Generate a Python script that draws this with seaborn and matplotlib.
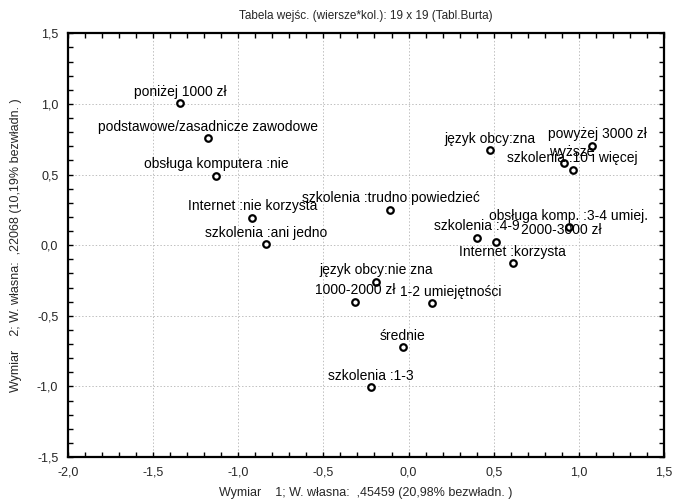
"""
Correspondence analysis map (Burt table, 19 x 19) in Statistica style.
"""
import pandas as pd
import matplotlib
matplotlib.use("Agg")
import matplotlib.pyplot as plt
from matplotlib.ticker import MultipleLocator, FuncFormatter
import seaborn as sns

labels = [
    "poniżej 1000 zł", "podstawowe/zasadnicze zawodowe", "obsługa komputera :nie",
    "Internet :nie korzysta", "szkolenia :ani jedno", "szkolenia :trudno powiedzieć",
    "język obcy:zna", "powyżej 3000 zł", "wyższe", "szkolenia :10 i więcej",
    "obsługa komp. :3-4 umiej.", "szkolenia :4-9", "2000-3000 zł",
    "Internet :korzysta", "język obcy:nie zna", "1000-2000 zł",
    "1-2 umiejętności", "średnie", "szkolenia :1-3",
]
dim1 = [-1.342, -1.178, -1.129, -0.917, -0.835, -0.106, 0.481, 1.078, 0.916, 0.964,
        0.941, 0.401, 0.515, 0.612, -0.190, -0.315, 0.139, -0.033, -0.223]
dim2 = [1.005, 0.757, 0.493, 0.195, 0.007, 0.250, 0.674, 0.705, 0.580, 0.533,
        0.127, 0.054, 0.025, -0.127, -0.258, -0.399, -0.410, -0.722, -1.005]

# labels that Statistica pushed sideways to avoid overlap (points)
label_shift = {"2000-3000 zł": 47, "1-2 umiejętności": 13, "wyższe": 5, "powyżej 3000 zł": 4}

df = pd.DataFrame({"label": labels, "x": dim1, "y": dim2})

sns.set_style("white")
plt.rcParams["font.family"] = ["Liberation Sans", "DejaVu Sans"]
plt.rcParams["font.size"] = 9

fig = plt.figure(figsize=(6.74, 5.04), dpi=100)
ax = fig.add_axes([0.101, 0.093, 0.884, 0.841])

sns.scatterplot(data=df, x="x", y="y", ax=ax, s=22, marker="o",
                facecolor="white", edgecolor="black", linewidth=1.6, zorder=3)

for _, r in df.iterrows():
    ax.annotate(r["label"], (r["x"], r["y"]),
                xytext=(label_shift.get(r["label"], 0), 3.2),
                textcoords="offset points", ha="center", va="bottom",
                fontsize=10, color="black", zorder=4)

ax.set_xlim(-2.0, 1.5)
ax.set_ylim(-1.5, 1.5)
fmt = FuncFormatter(lambda v, _: f"{v:.1f}".replace(".", ","))
ax.xaxis.set_major_locator(MultipleLocator(0.5))
ax.yaxis.set_major_locator(MultipleLocator(0.5))
ax.xaxis.set_minor_locator(MultipleLocator(0.1))
ax.yaxis.set_minor_locator(MultipleLocator(0.1))
ax.xaxis.set_major_formatter(fmt)
ax.yaxis.set_major_formatter(fmt)
ax.tick_params(which="both", direction="in", length=3.5, width=1,
               top=True, right=True, bottom=True, left=True, color="black")
ax.tick_params(which="major", labelsize=9, pad=7)

ax.grid(True, which="major", linestyle=(0, (1.5, 2)), color="#c0c0c0", linewidth=0.7)
for sp in ax.spines.values():
    sp.set_color("black")
    sp.set_linewidth(1.6)

ax.set_xlabel("Wymiar    1; W. własna:  ,45459 (20,98% bezwładn. )", fontsize=9, labelpad=6)
ax.set_ylabel("Wymiar    2; W. własna:  ,22068 (10,19% bezwładn. )", fontsize=9, labelpad=11)
ax.set_title("Tabela wejśc. (wiersze*kol.): 19 x 19 (Tabl.Burta)", fontsize=8.5, pad=10)

fig.savefig("out.png", dpi=100)
